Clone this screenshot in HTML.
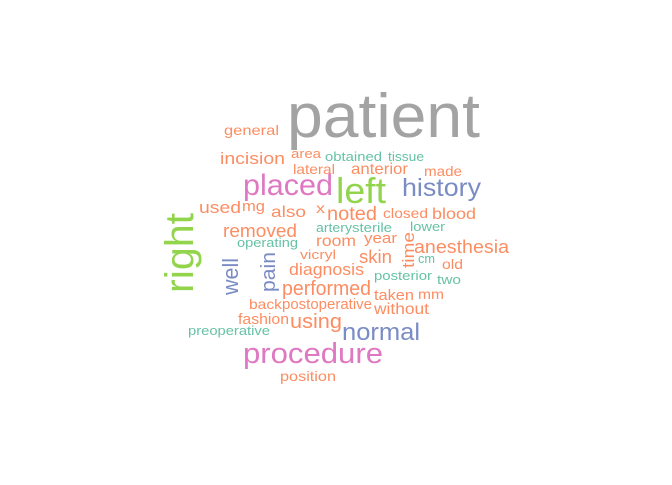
<!DOCTYPE html>
<html><head><meta charset="utf-8"><style>
html,body{margin:0;padding:0;background:#fff}
svg text{font-family:"Liberation Sans",Arial,sans-serif}
</style></head><body>
<svg width="672" height="480" xmlns="http://www.w3.org/2000/svg">
<g id="words"></g>
</svg>
<script>
const words=["patient","general","incision","area","obtained","tissue","lateral","anterior","made","placed","left","history","used","mg","also","x","noted","closed","blood","right","removed","artery","sterile","lower","operating","room","year","time","anesthesia","well","pain","vicryl","skin","cm","old","diagnosis","posterior","two","performed","taken","mm","back","postoperative","without","fashion","using","preoperative","normal","procedure","position"];
const colorKeys=["g","o","o","o","t","t","o","o","o","p","l","b","o","o","o","o","o","o","o","l","o","t","t","t","t","o","o","o","o","b","b","o","o","t","o","o","t","t","o","o","o","o","o","o","o","o","t","b","p","o"];
const palette={g:"#a3a3a3",o:"#fc8d62",t:"#66c2a5",p:"#df78c2",l:"#93d44d",b:"#7a8cc4"};
// layout: x, baseline y, font size, text length, rotation
const layout=[[287,137,62,193,0],[224,135,14,55,0],[220,164,17,65,0],[291,158,13,30,0],[325,161,13,57,0],[388,161,13,36,0],[293,174,14,42,0],[351,174,16,57,0],[424,176,14,38,0],[243,195,30,90,0],[336,203,36,50,0],[402,196,25,79,0],[199,213,17,42,0],[242,211,15,23,0],[271,217,16,35,0],[316,213,14,9,0],[327,220,19,50,0],[383,218,14,45,0],[432,219,16,44,0],[193,293,40,80,-90],[223,237,18,74,0],[316,232,13,36,0],[352,232,13,40,0],[410,231,13,35,0],[237,247,13,61,0],[316,246,16,40,0],[364,243,15,33,0],[414,268,17,36,-90],[414,253,18,95,0],[238,295,22,37,-90],[275,292,20,40,-90],[300,259,13,36,0],[359,263,18,33,0],[418,263,13,17,0],[442,269,14,21,0],[289,275,17,75,0],[374,280,13,58,0],[437,284,13,24,0],[282,295,20,89,0],[374,300,15,40,0],[418,299,14,26,0],[249,309,14,33,0],[282,309,15,90,0],[374,314,16,55,0],[238,324,15,51,0],[290,328,20,52,0],[188,335,13,82,0],[342,340,24,78,0],[243,363,29,140,0],[280,381,14,56,0]];
const g=document.getElementById('words');
words.forEach((w,i)=>{
 const [x,y,s,len,r]=layout[i];
 const t=document.createElementNS("http://www.w3.org/2000/svg","text");
 
 
 t.setAttribute('x',x);t.setAttribute('y',y);
 t.setAttribute('font-size',s);
 t.setAttribute('textLength',len);
 t.setAttribute('lengthAdjust','spacingAndGlyphs');
 t.setAttribute('fill',palette[colorKeys[i]]);
 if(r) t.setAttribute('transform','rotate('+r+' '+x+' '+y+')');
 t.textContent=w;
 g.appendChild(t);
});
</script>
</body></html>
